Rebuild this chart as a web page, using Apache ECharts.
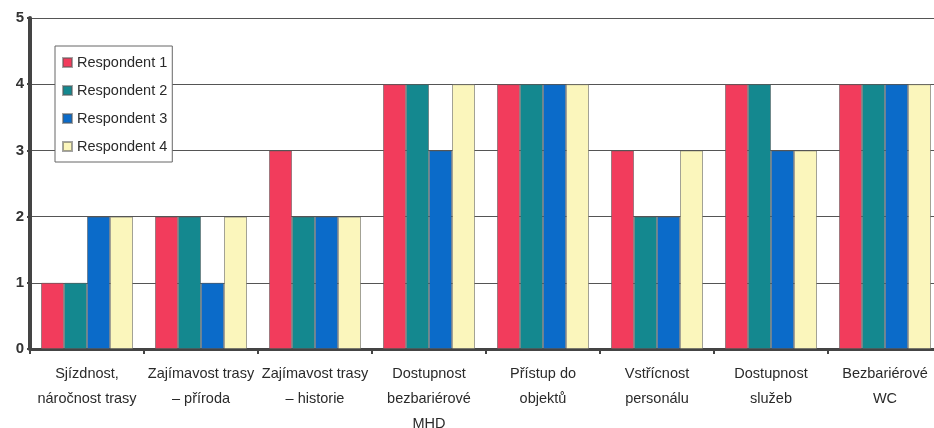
<!DOCTYPE html>
<html>
<head>
<meta charset="utf-8">
<script src="https://cdn.jsdelivr.net/npm/echarts@6/dist/echarts.min.js"></script>
<style>html,body{margin:0;padding:0;background:#fff;overflow:hidden;width:934px;height:428px}#c{width:946px;height:428px}</style>
</head>
<body>
<div id="c"></div>
<script>
const categories = ["Sjízdnost,\nnáročnost trasy", "Zajímavost trasy\n– příroda", "Zajímavost trasy\n– historie", "Dostupnost\nbezbariérové\nMHD", "Přístup do\nobjektů", "Vstřícnost\npersonálu", "Dostupnost\nslužeb", "Bezbariérové\nWC"];
const seriesNames = ["Respondent 1", "Respondent 2", "Respondent 3", "Respondent 4"];
const respondent1 = [1, 2, 3, 4, 4, 3, 4, 4];
const respondent2 = [1, 2, 2, 4, 4, 2, 4, 4];
const respondent3 = [2, 1, 2, 3, 4, 2, 3, 4];
const respondent4 = [2, 2, 2, 4, 4, 3, 3, 4];
const yTicks = [0, 1, 2, 3, 4, 5];
const colors = ["#F23C5C", "#14888F", "#0B6BC9", "#FBF6BC"];

const values = [respondent1, respondent2, respondent3, respondent4];
const font = "'Liberation Sans', Arial, sans-serif";
const chart = echarts.init(document.getElementById('c'), null, {renderer: 'canvas'});
chart.setOption({
  animation: false,
  backgroundColor: '#fff',
  grid: {left: 30, top: 18, right: 4, bottom: 79, containLabel: false, outerBoundsMode: 'none'},
  legend: {
    orient: 'vertical', left: 55, top: 46,
    backgroundColor: '#fff', borderColor: '#666', borderWidth: 1,
    padding: [9, 5, 8, 7], itemWidth: 9, itemHeight: 9, itemGap: 13,
    icon: 'rect',
    textStyle: {fontFamily: font, fontSize: 14.5, color: '#2a2a2a'},
    data: seriesNames
  },
  xAxis: {
    type: 'category', data: categories,
    axisLine: {lineStyle: {color: '#444', width: 3}},
    axisTick: {show: true, length: 5, lineStyle: {color: '#444', width: 2}},
    axisLabel: {fontFamily: font, fontSize: 14.5, color: '#2a2a2a', lineHeight: 25, margin: 12, interval: 0},
    splitLine: {show: false}
  },
  yAxis: {
    type: 'value', min: 0, max: 5, interval: 1,
    axisLine: {show: true, lineStyle: {color: '#444', width: 4}},
    axisTick: {show: true, length: 3, lineStyle: {color: '#444', width: 2}},
    axisLabel: {fontFamily: font, fontSize: 15, color: '#333', fontWeight: 'bold', margin: 6,
      formatter: v => yTicks.includes(v) ? String(v) : ''},
    splitLine: {show: true, lineStyle: {color: '#555', width: 1}}
  },
  series: seriesNames.map((n, i) => ({
    name: n, type: 'bar', data: values[i],
    barWidth: 23, barGap: '0%',
    itemStyle: {color: colors[i], borderColor: 'rgba(90,90,90,0.55)', borderWidth: 1}
  }))
});
</script>
</body>
</html>
